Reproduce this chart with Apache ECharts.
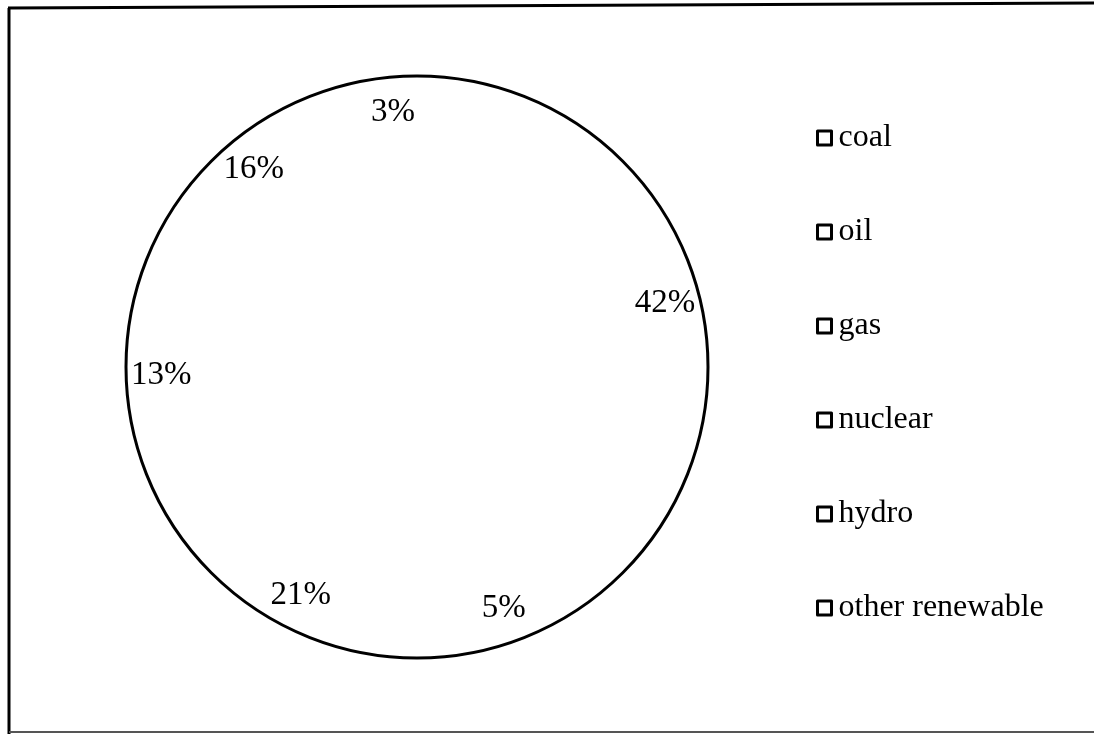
<!DOCTYPE html>
<html>
<head>
<meta charset="utf-8">
<script src="https://cdn.jsdelivr.net/npm/echarts@6/dist/echarts.min.js"></script>
<style>
html,body{margin:0;padding:0;background:#fff;}
#chart{width:1094px;height:734px;}
</style>
</head>
<body>
<div id="chart"></div>
<script>
// Data
const categories = ['coal', 'oil', 'gas', 'nuclear', 'hydro', 'other renewable'];
const shares = [42, 5, 21, 13, 16, 3];

const total = shares.reduce((a, b) => a + b, 0);
const chart = echarts.init(document.getElementById('chart'));
const FONT = '"Liberation Serif", "Times New Roman", serif';

chart.setOption({
  backgroundColor: '#fff',
  animation: false,
  legend: {
    orient: 'vertical',
    left: 811,
    top: 117,
    data: categories,
    icon: 'rect',
    itemWidth: 14,
    itemHeight: 14,
    itemGap: 62,
    itemStyle: { color: '#fff', borderColor: '#000', borderWidth: 3 },
    textStyle: { fontFamily: FONT, fontSize: 32, color: '#000', lineHeight: 32, padding: [0, 0, 0, 2] },
    selectedMode: false
  },
  graphic: [
    { type: 'line', shape: { x1: 9, y1: 8, x2: 9, y2: 734 }, style: { stroke: '#000', lineWidth: 3 } },
    { type: 'line', shape: { x1: 8, y1: 8, x2: 1094, y2: 3 }, style: { stroke: '#000', lineWidth: 3 } },
    { type: 'line', shape: { x1: 9, y1: 732, x2: 1094, y2: 732 }, style: { stroke: '#555', lineWidth: 2 } }
  ],
  series: [
    {
      type: 'pie',
      silent: true,
      center: [417, 367],
      radius: [0, 291],
      startAngle: 90,
      label: { show: false },
      labelLine: { show: false },
      itemStyle: { color: '#fff', borderColor: '#000', borderWidth: 3 },
      data: [{ name: '_outline', value: total }],
      z: 1
    },
    {
      type: 'pie',
      center: [417, 367],
      radius: [215, 291],
      startAngle: 90,
      clockwise: true,
      avoidLabelOverlap: false,
      itemStyle: { color: 'rgba(255,255,255,0)', borderWidth: 0 },
      label: {
        show: true,
        position: 'inside',
        formatter: '{c}%',
        fontFamily: FONT,
        fontSize: 33,
        color: '#000'
      },
      labelLine: { show: false },
      emphasis: { disabled: true },
      data: categories.map((c, i) => ({ name: c, value: shares[i] })),
      z: 2
    }
  ]
});
</script>
</body>
</html>
